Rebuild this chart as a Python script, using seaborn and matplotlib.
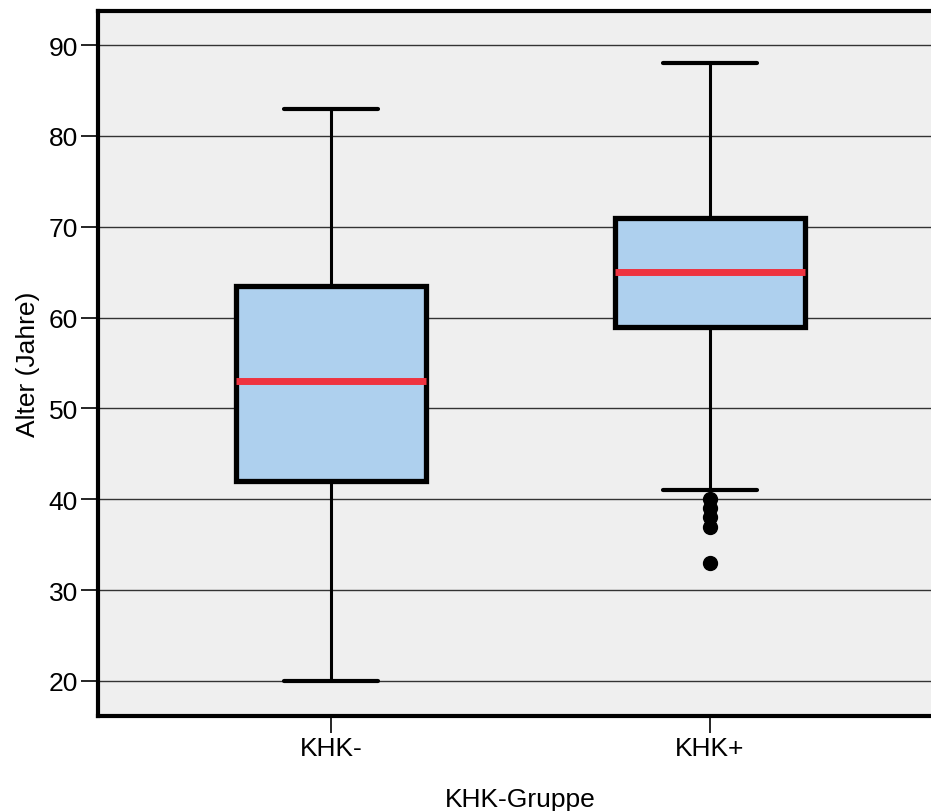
import matplotlib
matplotlib.use("Agg")
import matplotlib.pyplot as plt
import seaborn as sns
import pandas as pd

# Box statistics per group (age in years)
groups = ["KHK-", "KHK+"]
q1 = [42, 59]
median = [53, 65]
q3 = [63.5, 71]
whisker_low = [20, 41]
whisker_high = [83, 88]
outliers = [[], [40, 39, 38, 37, 33]]

y_ticks = [20, 30, 40, 50, 60, 70, 80, 90]

sns.set_theme(style="white")
plt.rcParams["font.family"] = ["Liberation Sans", "DejaVu Sans"]

fig = plt.figure(figsize=(9.31, 8.12), dpi=100)
W, H = 931, 812
left_px, right_px, top_px, bottom_px = 98, 943, 11.5, 716.5
ax = fig.add_axes([left_px / W, 1 - bottom_px / H,
                   (right_px - left_px) / W, (bottom_px - top_px) / H])
ax.set_facecolor("#efefef")

box_kw = dict(facecolor="#aed0ee", edgecolor="black", linewidth=3.8)
median_kw = dict(color="#ee3340", linewidth=5.0, solid_capstyle="butt")
whisker_kw = dict(color="black", linewidth=2.2)
cap_kw = dict(color="black", linewidth=3.0)

# Long table with the five-number summary of each group
rows = []
for g, a, m, b, lo, hi, fl in zip(groups, q1, median, q3, whisker_low, whisker_high, outliers):
    for v in [lo, a, m, b, hi] + list(fl):
        rows.append({"KHK-Gruppe": g, "Alter": v})
df = pd.DataFrame(rows)

sns.boxplot(
    data=df, x="KHK-Gruppe", y="Alter", order=groups, ax=ax,
    width=0.5, color="#aed0ee", whis=(0, 100), showfliers=False,
    boxprops=box_kw, medianprops=median_kw,
    whiskerprops=whisker_kw, capprops=cap_kw,
)

# Redraw with the exact quartiles and whisker ends
for p in list(ax.patches):
    p.remove()
for ln in list(ax.lines):
    ln.remove()
stats = []
for g, a, m, b, lo, hi, fl in zip(groups, q1, median, q3, whisker_low, whisker_high, outliers):
    stats.append(dict(label=g, q1=a, med=m, q3=b, whislo=lo, whishi=hi, fliers=fl))
ax.bxp(
    stats, positions=[0, 1], widths=0.5, patch_artist=True, manage_ticks=False,
    boxprops=box_kw, medianprops=median_kw,
    whiskerprops=whisker_kw, capprops=cap_kw,
    flierprops=dict(marker="o", markerfacecolor="black", markeredgecolor="black",
                    markersize=10),
    zorder=3,
)

ax.set_xlim(-0.615, 1.615)
ax.set_ylim(16.2, 93.8)
ax.set_yticks(y_ticks)
ax.set_xticks([0, 1])
ax.set_xticklabels(groups)
ax.yaxis.grid(True, color="#333333", linewidth=1.0, zorder=0)
ax.xaxis.grid(False)
ax.set_axisbelow(True)

for side in ["left", "top", "bottom", "right"]:
    ax.spines[side].set_visible(True)
    ax.spines[side].set_color("black")
    ax.spines[side].set_linewidth(3.0)

ax.tick_params(axis="both", which="both", direction="out", length=12.5, width=1.2,
               color="black", labelsize=19, labelcolor="black", pad=2,
               left=True, bottom=True)
ax.set_xlabel("KHK-Gruppe", fontsize=19, color="black", labelpad=20)
ax.set_ylabel("Alter (Jahre)", fontsize=19, color="black", labelpad=6)

fig.savefig("out.png", dpi=100)
